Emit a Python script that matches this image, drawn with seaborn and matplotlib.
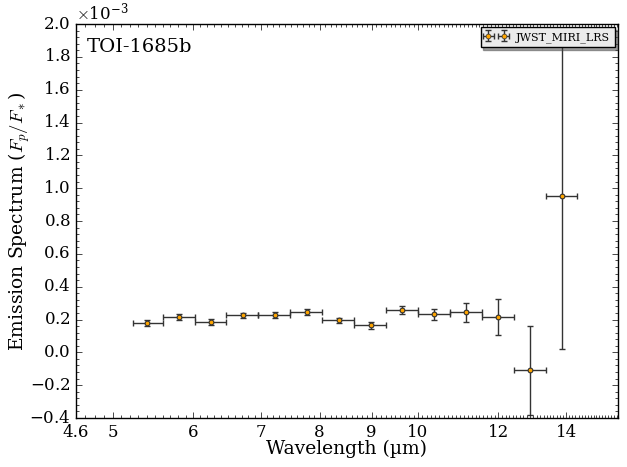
import numpy as np
import pandas as pd
import matplotlib
matplotlib.use('Agg')
import matplotlib.pyplot as plt
import seaborn as sns
from matplotlib.ticker import FixedLocator, FixedFormatter, NullFormatter, MultipleLocator, AutoMinorLocator

# 데이터
wave = [5.41, 5.81, 6.25, 6.72, 7.22, 7.77, 8.35, 8.98, 9.65, 10.38, 11.16, 12.00, 12.90, 13.86]
wave_lo = [5.23, 5.61, 6.03, 6.47, 6.96, 7.48, 8.05, 8.65, 9.30, 10.00, 10.75, 11.56, 12.43, 13.36]
wave_hi = [5.61, 6.03, 6.47, 6.96, 7.48, 8.05, 8.65, 9.30, 10.00, 10.75, 11.56, 12.43, 13.36, 14.36]
fpfs = [0.178, 0.215, 0.185, 0.225, 0.227, 0.244, 0.195, 0.164, 0.256, 0.231, 0.244, 0.215, -0.110, 0.952]
fpfs_err = [0.016, 0.017, 0.016, 0.016, 0.016, 0.018, 0.017, 0.019, 0.024, 0.035, 0.058, 0.107, 0.270, 0.934]
xticks = [4.6, 5, 6, 7, 8, 9, 10, 12, 14]

df = pd.DataFrame({'wave': wave, 'fpfs': np.array(fpfs) * 1e-3})
xerr = [np.array(wave) - np.array(wave_lo), np.array(wave_hi) - np.array(wave)]
yerr = np.array(fpfs_err) * 1e-3

#그래프 스타일
plt.style.use('classic')
plt.rcParams['font.family'] = 'DejaVu Serif'
plt.rcParams['axes.formatter.use_mathtext'] = True

fig = plt.figure(figsize=(6.27, 4.67), dpi=100)
ax = fig.add_axes([0.1212, 0.1049, 0.8644, 0.8437])

ax.errorbar(df['wave'], df['fpfs'], xerr=xerr, yerr=yerr, fmt='o', color='#333333',
            ecolor='#333333', elinewidth=1, capsize=2.5, capthick=1,
            markersize=3.5, markerfacecolor='orange', markeredgecolor='#333333',
            label='JWST_MIRI_LRS', zorder=2)
sns.scatterplot(data=df, x='wave', y='fpfs', ax=ax, color='orange', edgecolor='#333333',
                s=11, linewidth=0.7, zorder=3, legend=False)

ax.set_xscale('log')
ax.set_xlim(4.6, 15.75)
ax.set_ylim(-0.4e-3, 2.0e-3)
ax.xaxis.set_major_locator(FixedLocator(xticks))
ax.xaxis.set_major_formatter(FixedFormatter([str(t) for t in xticks]))
ax.xaxis.set_minor_locator(MultipleLocator(0.1))
ax.xaxis.set_minor_formatter(NullFormatter())
ax.yaxis.set_major_locator(MultipleLocator(0.2e-3))
ax.yaxis.set_minor_locator(AutoMinorLocator(5))
ax.ticklabel_format(axis='y', style='sci', scilimits=(0, 0))

ax.set_xlabel('Wavelength (µm)', fontsize=13.5)
ax.set_ylabel(r'Emission Spectrum ($F_p/F_*$)', fontsize=13.5)
ax.yaxis.set_label_coords(-0.081, 0.5)
ax.xaxis.set_label_coords(0.5, -0.056)
ax.text(0.02, 0.965, 'TOI-1685b', transform=ax.transAxes, fontsize=14, va='top', ha='left')

leg = ax.legend(loc='upper right', fontsize=8, shadow=True, fancybox=False, numpoints=2,
                borderaxespad=0.3)
leg.get_frame().set_facecolor('0.92')

plt.savefig('out.png', dpi=100)
